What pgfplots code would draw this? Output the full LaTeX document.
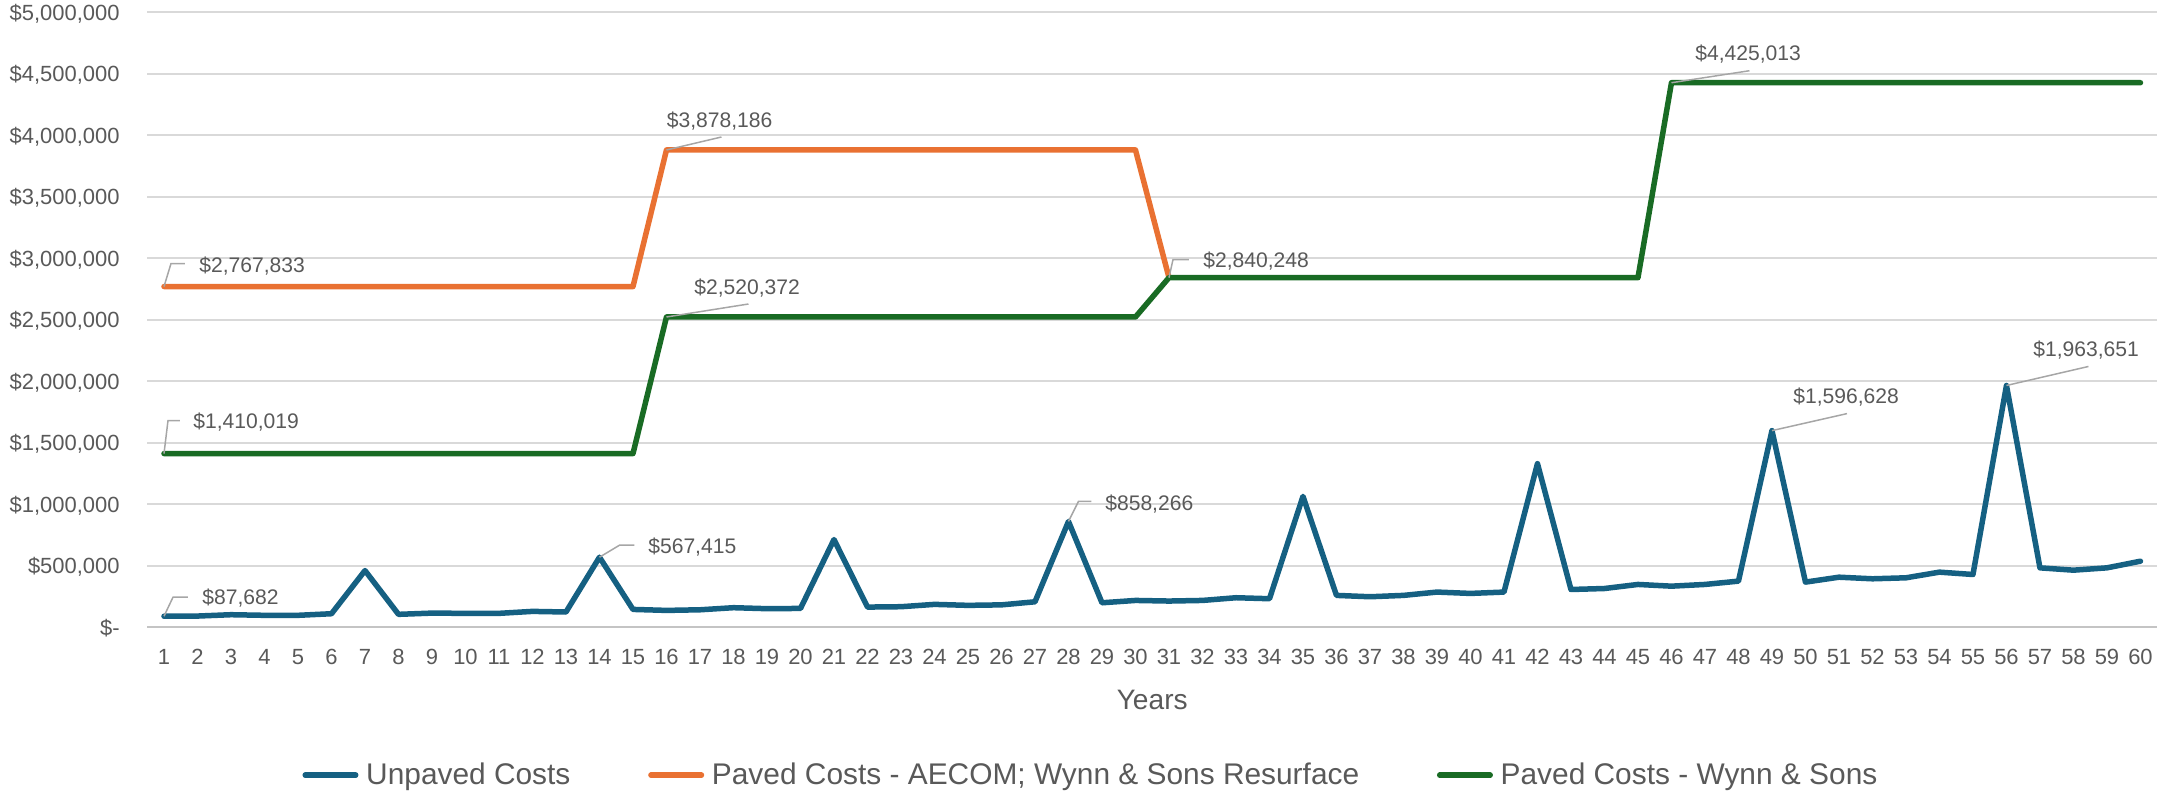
\documentclass[border=0pt]{standalone}
\usepackage{pgfplots}
\pgfplotsset{compat=1.18}
\usepackage{pgfplotstable}
\usepackage{fontspec}
\setmainfont{Liberation Sans}
\definecolor{cBlue}{HTML}{156082}
\definecolor{cOrange}{HTML}{E97132}
\definecolor{cGreen}{HTML}{196B24}
\definecolor{cText}{HTML}{595959}
\definecolor{cGrid}{HTML}{D9D9D9}
\definecolor{cAxis}{HTML}{C4C4C4}
\definecolor{cLead}{HTML}{A6A6A6}
\newcommand\tickfont{\fontsize{12.5}{15}\selectfont}
\newcommand\lblfont{\fontsize{12}{14}\selectfont}
\newcommand\legfont{\fontsize{17}{20}\selectfont}
\newcommand\titfont{\fontsize{16}{19}\selectfont}
\tikzset{
  lead/.style={cLead, line width=0.3mm},
  lbl/.style={anchor=base west, inner sep=0pt, font=\lblfont, text=cText},
}

\pgfplotstableread{
year cost
1 87682
2 89000
3 100000
4 95000
5 95000
6 108000
7 459000
8 103000
9 113000
10 111000
11 111000
12 127000
13 122000
14 567415
15 143000
16 135000
17 140000
18 157000
19 149000
20 151000
21 711000
22 162000
23 165000
24 184000
25 176000
26 180000
27 205000
28 858266
29 197000
30 216000
31 211000
32 216000
33 238000
34 230000
35 1062000
36 257000
37 246000
38 257000
39 284000
40 273000
41 284000
42 1328000
43 305000
44 313000
45 346000
46 332000
47 346000
48 373000
49 1596628
50 365000
51 405000
52 392000
53 400000
54 446000
55 427000
56 1963651
57 481000
58 462000
59 481000
60 535000
}\unpaved

\pgfplotstableread{
year cost
1 2767833
15 2767833
16 3878186
30 3878186
31 2840248
}\aecom

\pgfplotstableread{
year cost
1 1410019
15 1410019
16 2520372
30 2520372
31 2840248
45 2840248
46 4425013
60 4425013
}\wynn

\begin{document}
\begin{tikzpicture}
\path[use as bounding box] (0,0) rectangle (431.6mm,-158.8mm);
\begin{axis}[
  at={(29.45mm,-125.4mm)}, anchor=south west,
  scale only axis, width=402mm, height=123mm,
  xmin=0.5, xmax=60.5, ymin=0, ymax=5000000,
  clip=false,
  scaled y ticks=false, scaled x ticks=false,
  axis line style={draw=none},
  tick style={draw=none}, major tick length=0pt,
  ymajorgrids, grid style={cGrid, line width=0.4mm},
  xtick={1,...,60},
  ytick={0,500000,1000000,1500000,2000000,2500000,3000000,3500000,4000000,4500000,5000000},
  yticklabels={{\$-},{\$500,000},{\$1,000,000},{\$1,500,000},{\$2,000,000},{\$2,500,000},{\$3,000,000},{\$3,500,000},{\$4,000,000},{\$4,500,000},{\$5,000,000}},
  /pgf/number format/assume math mode=true,
  ticklabel style={font=\tickfont, text=cText},
  yticklabel style={anchor=base east, inner sep=0pt, xshift=-5.45mm, yshift=-1.6mm},
  xticklabel style={anchor=base, inner sep=0pt, yshift=-7.5mm},
  xlabel={Years},
  xlabel style={at={(axis description cs:0.5,-0.1187)}, anchor=center, font=\titfont, text=cText},
  legend columns=3,
  legend style={at={(axis description cs:0.469,-0.241)}, anchor=center, draw=none, fill=none,
    inner sep=0pt, font=\legfont, text=cText,
    nodes={inner sep=0pt},
    /tikz/every odd column/.append style={column sep=1.55mm},
    /tikz/every even column/.append style={column sep=15.55mm}},
  legend image code/.code={\draw[#1, line cap=round] (0mm,0mm) -- (10.1mm,0mm);},
  every axis plot/.append style={line width=1.1mm, line join=round, line cap=round, mark=none},
]
\draw[cAxis, line width=0.4mm] (axis cs:0.5,0) -- (axis cs:60.5,0);
\addplot[cBlue] table[x=year,y=cost]{\unpaved};
\addlegendentry{Unpaved Costs}
\addplot[cOrange] table[x=year,y=cost]{\aecom};
\addlegendentry{Paved Costs - AECOM; Wynn \& Sons Resurface}
\addplot[cGreen] table[x=year,y=cost]{\wynn};
\addlegendentry{Paved Costs - Wynn \& Sons}

\draw[lead] (axis cs:1,2767833) -- ++(1.4mm,4.6mm) -- ++(2.8mm,0mm);
\node[lbl] at ([shift={(7mm,2.8mm)}]axis cs:1,2767833) {\$2,767,833};
\draw[lead] (axis cs:1,1410019) -- ++(0.8mm,6.6mm) -- ++(2.4mm,0mm);
\node[lbl] at ([shift={(5.8mm,5.0mm)}]axis cs:1,1410019) {\$1,410,019};
\draw[lead] (axis cs:1,87682) -- ++(1.8mm,3.8mm) -- ++(3.0mm,0mm);
\node[lbl] at ([shift={(7.6mm,2.3mm)}]axis cs:1,87682) {\$87,682};
\draw[lead] (axis cs:14,567415) -- ++(4.0mm,2.4mm) -- ++(3.0mm,0mm);
\node[lbl] at ([shift={(9.7mm,0.7mm)}]axis cs:14,567415) {\$567,415};
\draw[lead] (axis cs:16,3878186) -- ++(11mm,2.6mm);
\node[lbl] at ([shift={(0mm,4.5mm)}]axis cs:16,3878186) {\$3,878,186};
\draw[lead] (axis cs:16,2520372) -- ++(16.4mm,2.6mm);
\node[lbl] at ([shift={(5.5mm,4.5mm)}]axis cs:16,2520372) {\$2,520,372};
\draw[lead] (axis cs:31,2840248) -- ++(0.8mm,3.6mm) -- ++(3.2mm,0mm);
\node[lbl] at ([shift={(6.8mm,2.0mm)}]axis cs:31,2840248) {\$2,840,248};
\draw[lead] (axis cs:28,858266) -- ++(2.0mm,4.0mm) -- ++(2.6mm,0mm);
\node[lbl] at ([shift={(7.3mm,2.1mm)}]axis cs:28,858266) {\$858,266};
\draw[lead] (axis cs:46,4425013) -- ++(15.6mm,2.4mm);
\node[lbl] at ([shift={(4.7mm,4.4mm)}]axis cs:46,4425013) {\$4,425,013};
\draw[lead] (axis cs:49,1596628) -- ++(15mm,3.4mm);
\node[lbl] at ([shift={(4.2mm,5.4mm)}]axis cs:49,1596628) {\$1,596,628};
\draw[lead] (axis cs:56,1963651) -- ++(16.4mm,3.8mm);
\node[lbl] at ([shift={(5.3mm,5.8mm)}]axis cs:56,1963651) {\$1,963,651};
\end{axis}
\end{tikzpicture}
\end{document}
